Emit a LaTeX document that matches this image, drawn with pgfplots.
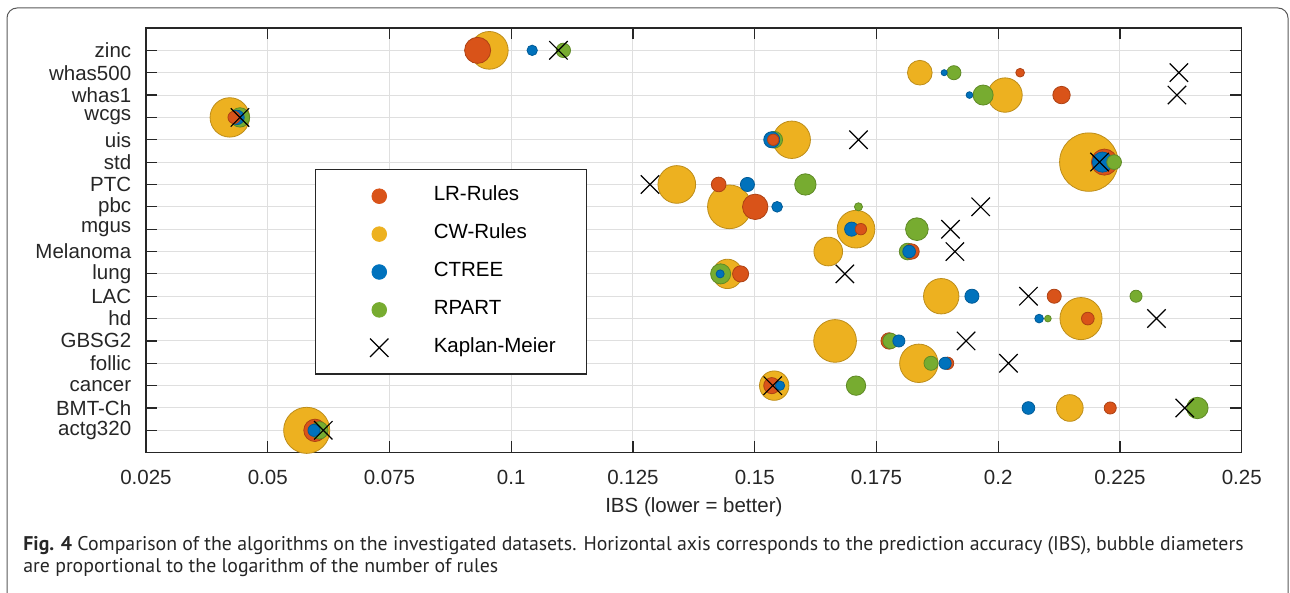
\documentclass[border=0pt]{standalone}
\usepackage{fontspec}
\setmainfont{Liberation Sans}
\newfontfamily\capfont{PT Sans}
\usepackage{pgfplots}
\pgfplotsset{compat=1.18}
\usepackage{pgfplotstable}
\definecolor{lrc}{RGB}{217,83,25}
\definecolor{cwc}{RGB}{237,177,32}
\definecolor{ctc}{RGB}{0,114,189}
\definecolor{rpc}{RGB}{119,172,48}
\definecolor{axc}{RGB}{38,38,38}
\definecolor{gridc}{RGB}{223,223,223}

% bubbles: x = IBS, y = dataset index, d = diameter (px), c = 0 LR, 1 CW, 2 CTREE, 3 RPART
\pgfplotstableread{
x y d c
0.2186 13 59 1
0.0580 1 46.7 1
0.1448 11 44.3 1
0.1665 5 43.3 1
0.2170 6 42.7 1
0.0422 15 40 1
0.1837 4 39 1
0.0955 18 38.3 1
0.1340 12 38.3 1
0.1708 10 38.3 1
0.1576 14 38 1
0.1883 7 36 1
0.2014 16 35 1
0.1444 8 30 1
0.1540 3 30 1
0.1651 9 29.3 1
0.2147 2 27.3 1
0.2218 13 26.7 0
0.0931 18 26.7 0
0.1501 11 26 0
0.1839 17 25.3 1
0.1833 10 23.3 3
0.0597 1 23 0
0.1604 12 22 3
0.2409 2 22 3
0.1969 16 20.7 3
0.2214 13 20.7 2
0.1430 8 20.7 3
0.0443 15 20 3
0.1708 3 20 3
0.0606 1 18 3
0.2130 16 18 0
0.1814 9 17.3 3
0.1540 14 17.3 3
0.1776 5 17 0
0.1535 14 16.7 2
0.1471 8 16.7 0
0.1535 3 16.7 0
0.1822 9 16 0
0.1779 5 16 3
0.1426 12 15.3 0
0.2238 13 15.3 3
0.1107 18 15 3
0.0437 15 15 2
0.1485 12 14.7 2
0.1699 10 14.7 2
0.1946 7 14.7 2
0.2115 7 14.7 0
0.1862 4 14.7 3
0.1909 17 14.7 3
0.1817 9 13.3 2
0.2184 6 13.3 0
0.2062 2 13.3 2
0.0431 15 13 0
0.1896 4 13 0
0.0595 1 12.7 2
0.2283 7 12.7 3
0.1796 5 12.7 2
0.1891 4 12.7 2
0.2230 2 12.7 0
0.1538 14 12 0
0.1718 10 12 0
0.1546 11 11.3 2
0.1043 18 11 2
0.1552 3 10 2
0.2045 17 9.3 0
0.2084 6 9.3 2
0.1713 11 8.7 3
0.1429 8 8.7 2
0.1941 16 7.3 2
0.2102 6 7.3 3
0.1889 17 6.7 2
}\bubbles

\pgfplotstableread{
x y
0.1097 18
0.2371 17
0.2367 16
0.0443 15
0.1713 14
0.2208 13
0.1285 12
0.1964 11
0.1902 10
0.1911 9
0.1685 8
0.2062 7
0.2325 6
0.1934 5
0.2021 4
0.1537 3
0.2383 2
0.0614 1
}\kmdata

\pgfplotsset{
  legbub/.style={legend image code/.code={%
      \path[draw=none, fill=none] (0pt,-5pt) -- (55.7pt,5pt);
      \draw[only marks, mark=*, mark size=3.67pt, draw=#1, fill=#1, line width=0.4pt] plot coordinates {(31.85pt,0pt)};}},
  legkm/.style={legend image code/.code={%
      \path[draw=none, fill=none] (0pt,-5pt) -- (55.7pt,5pt);
      \draw[only marks, mark=x, mark size=6.5pt, draw=black, line width=0.6pt] plot coordinates {(31.85pt,0pt)};}},
}

\begin{document}
\begin{tikzpicture}
\useasboundingbox (0pt,0pt) rectangle (645pt,-296.5pt);
\draw[line width=0.5pt, black!65] (3.5pt,-296.5pt) -- (3.5pt,-9pt) arc[start angle=180,end angle=90,radius=5pt] -- (639pt,-4pt) arc[start angle=90,end angle=0,radius=5pt] -- (644pt,-296.5pt);

\begin{axis}[
  at={(73pt,-226.35pt)}, anchor=south west,
  scale only axis, width=547.85pt, height=212.35pt,
  xmin=0.025, xmax=0.25, ymin=0, ymax=19,
  xtick={0.025,0.05,0.075,0.1,0.125,0.15,0.175,0.2,0.225,0.25},
  xticklabels={0.025,0.05,0.075,0.1,0.125,0.15,0.175,0.2,0.225,0.25},
  ytick={1,2,3,4,5,6,7,8,9,10,11,12,13,14,15,16,17,18},
  yticklabels={actg320,BMT-Ch,cancer,follic,GBSG2,hd,LAC,lung,Melanoma,mgus,pbc,PTC,std,uis,wcgs,whas1,whas500,zinc},
  grid=major, major grid style={line width=0.5pt, draw=gridc},
  axis line style={line width=0.6pt, draw=axc},
  tick style={line width=0.6pt, draw=axc},
  major tick length=5.7pt, tick align=inside,
  ticklabel style={font=\fontsize{10.25}{12}\selectfont, text=axc},
  xticklabel style={yshift=-5.1pt},
  yticklabel style={inner xsep=7.2pt},
  /pgf/number format/assume math mode=true,
  xlabel={IBS (lower = better)},
  xlabel style={at={(axis description cs:0.5,0)}, anchor=center, yshift=-27.2pt, font=\fontsize{10.25}{12}\selectfont, text=axc},
  colormap={bub}{rgb255(0)=(217,83,25) rgb255(1)=(237,177,32) rgb255(2)=(0,114,189) rgb255(3)=(119,172,48)},
  point meta min=0, point meta max=3,
  legend cell align=left,
  legend style={at={(0.1542,0.6673)}, anchor=north west, draw=axc, line width=0.6pt, fill=white,
    inner xsep=0pt, inner ysep=8.15pt, row sep=8.95pt, column sep=0pt,
    nodes={inner xsep=3.4pt, inner ysep=0pt, text height=7.4pt, text depth=2.6pt, text width=73pt,
      font=\fontsize{10.25}{12}\selectfont, text=black}},
]
\addlegendimage{legbub=lrc}
\addlegendimage{legbub=cwc}
\addlegendimage{legbub=ctc}
\addlegendimage{legbub=rpc}
\addlegendimage{legkm}

\addplot[scatter, only marks, mark=*, point meta=\thisrow{c},
  visualization depends on={\thisrow{d}/4-0.15 \as \msize},
  scatter/@pre marker code/.append style={/tikz/mark size=\msize},
  forget plot] table[x=x,y=y] {\bubbles};

\addplot[only marks, mark=x, mark size=6.5pt, draw=black, line width=0.6pt, forget plot] table[x=x,y=y] {\kmdata};

\legend{LR-Rules,CW-Rules,CTREE,RPART,Kaplan-Meier}
\end{axis}

\node[anchor=base west, inner sep=0pt, font=\capfont\fontsize{9.9}{11}\selectfont, text=black!85] at (11.5pt,-275pt)
  {\textbf{Fig. 4} Comparison of the algorithms on the investigated datasets. Horizontal axis corresponds to the prediction accuracy (IBS), bubble diameters};
\node[anchor=base west, inner sep=0pt, font=\capfont\fontsize{9.9}{11}\selectfont, text=black!85] at (11.5pt,-286.2pt)
  {are proportional to the logarithm of the number of rules};
\end{tikzpicture}
\end{document}
